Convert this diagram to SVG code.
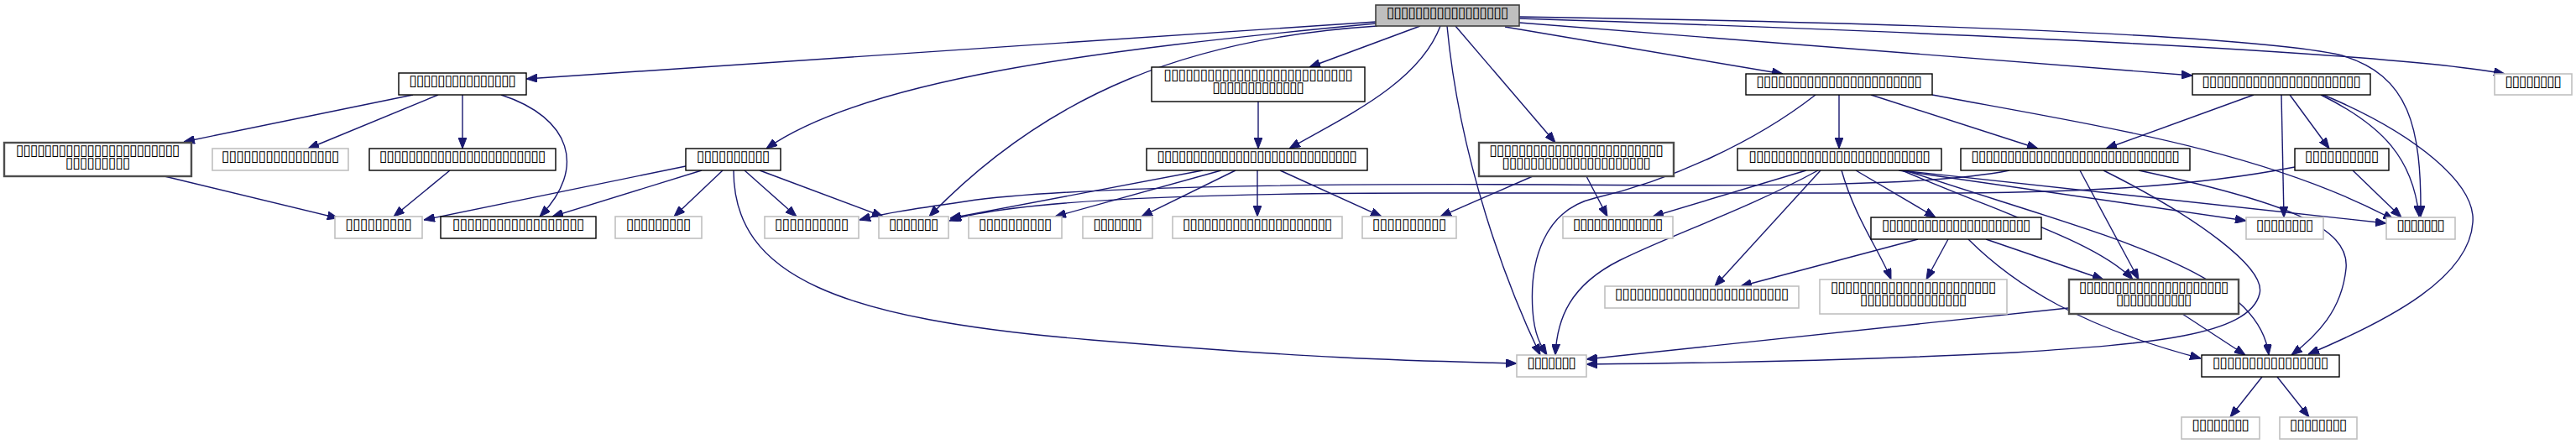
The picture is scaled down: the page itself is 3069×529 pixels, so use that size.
<svg xmlns="http://www.w3.org/2000/svg" width="3069" height="529" viewBox="0 0 3069 529">
<style>
rect{fill:#fff;stroke:#000;stroke-width:1.4}
.g rect{stroke:#c0c0c0;stroke-width:1.6}
.d rect{stroke:#4d4d4d;stroke-width:2.4}
.r rect{fill:#bfbfbf;stroke:#404040;stroke-width:1.6}
text{font-family:"DejaVu Sans",sans-serif;font-size:18px;text-anchor:middle;fill:#000}
#edges path{fill:none;stroke:#191970;stroke-width:1.4}
</style>
<defs>
<marker id="ah" viewBox="0 0 13 10" refX="13" refY="5" markerWidth="13" markerHeight="10" markerUnits="userSpaceOnUse" orient="auto"><path d="M0,0 L13,5 L0,10 z" fill="#191970" stroke="#191970" stroke-width="1"/></marker>
</defs>
<g id="edges" marker-end="url(#ah)">
<path d="M1639,26 L627,94"/>
<path d="M1639,28 C1300,60 1030,95 913,177"/>
<path d="M1641,31 C1420,45 1250,110 1107,258"/>
<path d="M1692,31 L1560,80"/>
<path d="M1716,31 C1690,100 1600,140 1536,177"/>
<path d="M1724,31 C1740,200 1800,350 1835,423"/>
<path d="M1734,31 L1853,170"/>
<path d="M1793,32 L2124,88"/>
<path d="M1810,27 L2612,90"/>
<path d="M1810,22 C2300,38 2850,62 2984,88"/>
<path d="M1810,20 C2350,28 2700,45 2790,66 C2870,90 2885,150 2884,258"/>
<path d="M492,113 L219,169"/>
<path d="M522,113 L367,177"/>
<path d="M551,113 L551,177"/>
<path d="M597,113 C680,140 700,200 643,258"/>
<path d="M196,210 L403,260"/>
<path d="M536,203 L469,258"/>
<path d="M817,198 L505,262"/>
<path d="M836,203 L658,258"/>
<path d="M861,203 L803,258"/>
<path d="M874,203 C874,330 1000,380 1300,405 S1700,430 1807,433"/>
<path d="M887,203 L949,258"/>
<path d="M905,203 L1052,258"/>
<path d="M1499,121 L1499,177"/>
<path d="M1433,203 L1132,260"/>
<path d="M1455,203 L1257,258"/>
<path d="M1472,203 L1360,258"/>
<path d="M1498,203 L1498,258"/>
<path d="M1525,203 L1646,258"/>
<path d="M1826,210 L1716,258"/>
<path d="M1890,210 L1915,258"/>
<path d="M2191,113 L2191,177"/>
<path d="M2229,113 L2428,177"/>
<path d="M2163,113 C2090,170 1990,215 1900,236 C1840,250 1822,310 1826,370 C1828,400 1836,412 1843,423"/>
<path d="M2166,203 C2080,250 1990,280 1930,310 C1870,340 1855,380 1853,423"/>
<path d="M2302,113 C2500,150 2700,180 2852,262"/>
<path d="M2685,113 L2509,177"/>
<path d="M2718,113 L2721,259"/>
<path d="M2728,113 L2775,177"/>
<path d="M2765,113 C2840,150 2875,190 2882,258"/>
<path d="M2768,113 C2880,160 2950,220 2946,265 C2942,330 2850,380 2750,422"/>
<path d="M2803,203 L2861,259"/>
<path d="M2734,199 C2600,225 2450,230 2300,230 L1700,230 C1400,230 1200,240 1131,263"/>
<path d="M2394,203 C2300,222 2100,222 1850,220 C1500,218 1250,225 1150,240 C1080,250 1050,255 1024,262"/>
<path d="M2152,203 L1969,258"/>
<path d="M2169,203 L2043,341"/>
<path d="M2211,203 L2306,259"/>
<path d="M2194,203 C2210,260 2240,300 2253,333"/>
<path d="M2262,203 L2676,263"/>
<path d="M2264,203 L2843,266"/>
<path d="M2266,203 C2400,260 2500,290 2541,333"/>
<path d="M2270,203 C2500,280 2690,320 2703,423"/>
<path d="M2548,203 C2720,240 2800,270 2795,320 C2790,370 2760,400 2730,423"/>
<path d="M2506,203 C2620,260 2700,320 2692,350 C2680,400 2560,410 2400,420 C2200,430 2000,433 1890,434"/>
<path d="M2478,203 L2548,333"/>
<path d="M2285,285 L2074,341"/>
<path d="M2321,285 L2295,333"/>
<path d="M2366,285 L2506,333"/>
<path d="M2345,285 C2400,340 2480,390 2622,427"/>
<path d="M2464,367 L1890,428"/>
<path d="M2600,374 L2675,423"/>
<path d="M2695,449 L2657,497"/>
<path d="M2713,449 L2751,497"/>
</g>
<g id="n-root" class="r"><rect x="1639" y="6" width="171" height="25"/><text x="1724.5" y="21" textLength="146" lengthAdjust="spacing">▯▯▯▯▯▯▯▯▯▯▯▯▯▯▯▯▯</text></g>
<g id="n-a"><rect x="475" y="87" width="152" height="26"/><text x="551" y="102" textLength="128" lengthAdjust="spacing">▯▯▯▯▯▯▯▯▯▯▯▯▯▯▯</text></g>
<g id="n-b"><rect x="1372" y="80" width="254" height="41"/><text><tspan x="1499" y="95" textLength="226" lengthAdjust="spacing">▯▯▯▯▯▯▯▯▯▯▯▯▯▯▯▯▯▯▯▯▯▯▯▯▯▯</tspan><tspan x="1499" y="110" textLength="110" lengthAdjust="spacing">▯▯▯▯▯▯▯▯▯▯▯▯▯</tspan></text></g>
<g id="n-c"><rect x="2080" y="88" width="222" height="25"/><text x="2191" y="103" textLength="198" lengthAdjust="spacing">▯▯▯▯▯▯▯▯▯▯▯▯▯▯▯▯▯▯▯▯▯▯▯</text></g>
<g id="n-d"><rect x="2612" y="88" width="212" height="25"/><text x="2718" y="103" textLength="190" lengthAdjust="spacing">▯▯▯▯▯▯▯▯▯▯▯▯▯▯▯▯▯▯▯▯▯▯</text></g>
<g id="n-e" class="g"><rect x="2972" y="88" width="92" height="25"/><text x="3018" y="103" textLength="68" lengthAdjust="spacing">▯▯▯▯▯▯▯▯</text></g>
<g id="n-f" class="d"><rect x="5" y="170" width="223" height="40"/><text><tspan x="116.5" y="185" textLength="196" lengthAdjust="spacing">▯▯▯▯▯▯▯▯▯▯▯▯▯▯▯▯▯▯▯▯▯▯▯</tspan><tspan x="116.5" y="200" textLength="78" lengthAdjust="spacing">▯▯▯▯▯▯▯▯▯</tspan></text></g>
<g id="n-g" class="g"><rect x="253" y="177" width="162" height="26"/><text x="334" y="192" textLength="141" lengthAdjust="spacing">▯▯▯▯▯▯▯▯▯▯▯▯▯▯▯▯</text></g>
<g id="n-h"><rect x="440" y="177" width="222" height="26"/><text x="551" y="192" textLength="199" lengthAdjust="spacing">▯▯▯▯▯▯▯▯▯▯▯▯▯▯▯▯▯▯▯▯▯▯▯</text></g>
<g id="n-i"><rect x="817" y="177" width="113" height="26"/><text x="873.5" y="192" textLength="88" lengthAdjust="spacing">▯▯▯▯▯▯▯▯▯▯</text></g>
<g id="n-j"><rect x="1366" y="177" width="263" height="26"/><text x="1497.5" y="192" textLength="239" lengthAdjust="spacing">▯▯▯▯▯▯▯▯▯▯▯▯▯▯▯▯▯▯▯▯▯▯▯▯▯▯▯▯</text></g>
<g id="n-k" class="d"><rect x="1762" y="170" width="232" height="40"/><text><tspan x="1878" y="185" textLength="208" lengthAdjust="spacing">▯▯▯▯▯▯▯▯▯▯▯▯▯▯▯▯▯▯▯▯▯▯▯▯</tspan><tspan x="1878" y="200" textLength="178" lengthAdjust="spacing">▯▯▯▯▯▯▯▯▯▯▯▯▯▯▯▯▯▯▯▯▯</tspan></text></g>
<g id="n-l"><rect x="2070" y="177" width="243" height="26"/><text x="2191.5" y="192" textLength="217" lengthAdjust="spacing">▯▯▯▯▯▯▯▯▯▯▯▯▯▯▯▯▯▯▯▯▯▯▯▯▯</text></g>
<g id="n-m"><rect x="2336" y="177" width="273" height="26"/><text x="2472.5" y="192" textLength="249" lengthAdjust="spacing">▯▯▯▯▯▯▯▯▯▯▯▯▯▯▯▯▯▯▯▯▯▯▯▯▯▯▯▯▯</text></g>
<g id="n-n"><rect x="2734" y="177" width="112" height="26"/><text x="2790" y="192" textLength="89" lengthAdjust="spacing">▯▯▯▯▯▯▯▯▯▯</text></g>
<g id="n-o" class="g"><rect x="399" y="258" width="104" height="26"/><text x="451" y="273" textLength="80" lengthAdjust="spacing">▯▯▯▯▯▯▯▯▯</text></g>
<g id="n-p"><rect x="525" y="258" width="185" height="26"/><text x="617.5" y="273" textLength="158" lengthAdjust="spacing">▯▯▯▯▯▯▯▯▯▯▯▯▯▯▯▯▯▯</text></g>
<g id="n-q" class="g"><rect x="733" y="258" width="103" height="26"/><text x="784.5" y="273" textLength="78" lengthAdjust="spacing">▯▯▯▯▯▯▯▯▯</text></g>
<g id="n-r" class="g"><rect x="911" y="258" width="112" height="26"/><text x="967" y="273" textLength="89" lengthAdjust="spacing">▯▯▯▯▯▯▯▯▯▯</text></g>
<g id="n-s" class="g"><rect x="1047" y="258" width="83" height="26"/><text x="1088.5" y="273" textLength="60" lengthAdjust="spacing">▯▯▯▯▯▯▯</text></g>
<g id="n-t" class="g"><rect x="1154" y="258" width="111" height="26"/><text x="1209.5" y="273" textLength="88" lengthAdjust="spacing">▯▯▯▯▯▯▯▯▯▯</text></g>
<g id="n-u" class="g"><rect x="1290" y="258" width="83" height="26"/><text x="1331.5" y="273" textLength="59" lengthAdjust="spacing">▯▯▯▯▯▯▯</text></g>
<g id="n-v" class="g"><rect x="1397" y="258" width="202" height="26"/><text x="1498" y="273" textLength="179" lengthAdjust="spacing">▯▯▯▯▯▯▯▯▯▯▯▯▯▯▯▯▯▯▯▯▯</text></g>
<g id="n-w" class="g"><rect x="1623" y="258" width="112" height="26"/><text x="1679" y="273" textLength="89" lengthAdjust="spacing">▯▯▯▯▯▯▯▯▯▯</text></g>
<g id="n-x" class="g"><rect x="1862" y="258" width="131" height="26"/><text x="1927.5" y="273" textLength="108" lengthAdjust="spacing">▯▯▯▯▯▯▯▯▯▯▯▯▯</text></g>
<g id="n-aa"><rect x="2229" y="259" width="203" height="26"/><text x="2330.5" y="274" textLength="178" lengthAdjust="spacing">▯▯▯▯▯▯▯▯▯▯▯▯▯▯▯▯▯▯▯▯▯</text></g>
<g id="n-y" class="g"><rect x="2676" y="259" width="92" height="26"/><text x="2722" y="274" textLength="69" lengthAdjust="spacing">▯▯▯▯▯▯▯▯</text></g>
<g id="n-z" class="g"><rect x="2843" y="259" width="82" height="26"/><text x="2884" y="274" textLength="58" lengthAdjust="spacing">▯▯▯▯▯▯▯</text></g>
<g id="n-ab" class="g"><rect x="1912" y="341" width="231" height="26"/><text x="2027.5" y="356" textLength="208" lengthAdjust="spacing">▯▯▯▯▯▯▯▯▯▯▯▯▯▯▯▯▯▯▯▯▯▯▯▯</text></g>
<g id="n-ac" class="g"><rect x="2168" y="333" width="223" height="41"/><text><tspan x="2279.5" y="348" textLength="198" lengthAdjust="spacing">▯▯▯▯▯▯▯▯▯▯▯▯▯▯▯▯▯▯▯▯▯▯▯</tspan><tspan x="2279.5" y="363" textLength="128" lengthAdjust="spacing">▯▯▯▯▯▯▯▯▯▯▯▯▯▯▯</tspan></text></g>
<g id="n-ad" class="d"><rect x="2465" y="333" width="202" height="41"/><text><tspan x="2566" y="348" textLength="179" lengthAdjust="spacing">▯▯▯▯▯▯▯▯▯▯▯▯▯▯▯▯▯▯▯▯▯</tspan><tspan x="2566" y="363" textLength="91" lengthAdjust="spacing">▯▯▯▯▯▯▯▯▯▯▯</tspan></text></g>
<g id="n-ae" class="g"><rect x="1807" y="423" width="83" height="26"/><text x="1848.5" y="438" textLength="59" lengthAdjust="spacing">▯▯▯▯▯▯▯</text></g>
<g id="n-af"><rect x="2623" y="423" width="164" height="26"/><text x="2705" y="438" textLength="139" lengthAdjust="spacing">▯▯▯▯▯▯▯▯▯▯▯▯▯▯▯▯</text></g>
<g id="n-ag" class="g"><rect x="2599" y="497" width="93" height="26"/><text x="2645.5" y="512" textLength="69" lengthAdjust="spacing">▯▯▯▯▯▯▯▯</text></g>
<g id="n-ah" class="g"><rect x="2716" y="497" width="92" height="26"/><text x="2762" y="512" textLength="69" lengthAdjust="spacing">▯▯▯▯▯▯▯▯</text></g>
</svg>
